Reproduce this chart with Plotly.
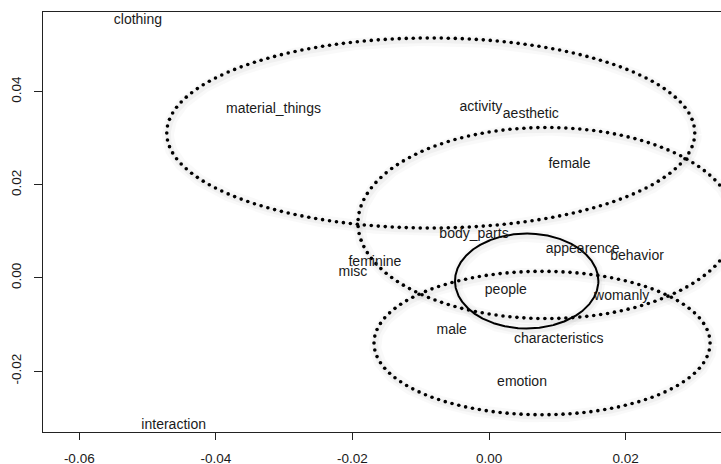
import numpy as np
import plotly.graph_objects as go

# ---- data ----
words = ["clothing", "material_things", "activity", "aesthetic", "female",
         "body_parts", "appearence", "behavior", "feminine", "misc", "people",
         "womanly", "male", "characteristics", "emotion", "interaction"]
word_x = [-0.05141, -0.03157, -0.00119, 0.00611, 0.01177,
          -0.00221, 0.01370, 0.02165, -0.01671, -0.01993, 0.00245,
          0.01941, -0.00548, 0.01019, 0.00482, -0.04618]
word_y = [0.05540, 0.03622, 0.03656, 0.03500, 0.02447,
          0.00943, 0.00614, 0.00455, 0.00327, 0.00112, -0.00275,
          -0.00404, -0.01119, -0.01313, -0.02251, -0.03175]

# cluster ellipses: centre and semi-axes (data units)
ell_cx = [-0.00854, 0.00842, 0.00775, 0.00550]
ell_cy = [0.03113, 0.01179, -0.01399, -0.00067]
ell_rx = [0.03865, 0.02761, 0.02460, 0.01050]
ell_ry = [0.02041, 0.02052, 0.01540, 0.01020]
ell_solid = [False, False, False, True]

x_tickvals = [-0.06, -0.04, -0.02, 0.00, 0.02]
x_ticktext = ["-0.06", "-0.04", "-0.02", "0.00", "0.02"]
y_tickvals = [-0.02, 0.00, 0.02, 0.04]
y_ticktext = ["-0.02", "0.00", "0.02", "0.04"]

# ---- layout geometry ----
W, H = 721, 464
ML, MR, MT, MB = 43, 0, 12, 32
XR = [-0.06531, 0.03395]
YR = [-0.03310, 0.05712]
pw, ph = W - ML - MR, H - MT - MB
sx = pw / (XR[1] - XR[0])
sy = ph / (YR[1] - YR[0])

FONT = "Liberation Sans, Arial, Helvetica, sans-serif"

fig = go.Figure()


def ellipse_curve(cx, cy, rx, ry, n=3000):
    t = np.linspace(0, 2 * np.pi, n)
    return cx + rx * np.cos(t), cy + ry * np.sin(t)


def ellipse_dots(cx, cy, rx, ry, spacing_px=7.0):
    x, y = ellipse_curve(cx, cy, rx, ry, 6000)
    px, py = x * sx, y * sy
    seg = np.hypot(np.diff(px), np.diff(py))
    s = np.concatenate([[0], np.cumsum(seg)])
    total = s[-1]
    n = int(round(total / spacing_px))
    ss = np.linspace(0, total, n, endpoint=False)
    return np.interp(ss, s, x), np.interp(ss, s, y)


# soft shadows under the ellipses
for cx, cy, rx, ry in zip(ell_cx, ell_cy, ell_rx, ell_ry):
    x, y = ellipse_curve(cx, cy, rx, ry)
    for w, a in [(12, 0.025), (6, 0.035)]:
        fig.add_trace(go.Scatter(
            x=x + 1.0 / sx, y=y - 2.0 / sy, mode="lines",
            line=dict(color=f"rgba(0,0,0,{a})", width=w),
            hoverinfo="skip", showlegend=False))

# ellipses
for cx, cy, rx, ry, solid in zip(ell_cx, ell_cy, ell_rx, ell_ry, ell_solid):
    if solid:
        x, y = ellipse_curve(cx, cy, rx, ry)
        fig.add_trace(go.Scatter(
            x=x, y=y, mode="lines", line=dict(color="black", width=2),
            hoverinfo="skip", showlegend=False))
    else:
        x, y = ellipse_dots(cx, cy, rx, ry)
        fig.add_trace(go.Scatter(
            x=x, y=y, mode="markers",
            marker=dict(color="black", size=3.6, line=dict(width=0)),
            hoverinfo="skip", showlegend=False))

# word labels
fig.add_trace(go.Scatter(
    x=word_x, y=word_y, mode="text", text=words,
    textposition="middle center",
    textfont=dict(family=FONT, size=14, color="#1a1a1a"),
    hoverinfo="skip", showlegend=False, cliponaxis=False))

fig.update_layout(
    width=W, height=H,
    margin=dict(l=ML, r=MR, t=MT, b=MB, pad=0, autoexpand=False),
    paper_bgcolor="white", plot_bgcolor="white",
    showlegend=False,
    font=dict(family=FONT, size=14, color="#1a1a1a"),
    xaxis=dict(range=XR, tickmode="array", tickvals=x_tickvals,
               ticktext=x_ticktext, ticks="outside", ticklen=7,
               tickwidth=1, tickcolor="#222", showline=True,
               linecolor="#222", linewidth=1, mirror=True,
               showgrid=False, zeroline=False, automargin=False,
               ticklabelstandoff=7,
               tickfont=dict(family=FONT, size=13.5, color="#1a1a1a")),
    yaxis=dict(range=YR, tickmode="array", tickvals=y_tickvals,
               ticktext=y_ticktext, ticks="outside", ticklen=8,
               tickwidth=1, tickcolor="#222", showline=True,
               linecolor="#222", linewidth=1, mirror=False,
               showgrid=False, zeroline=False, tickangle=-90,
               automargin=False, ticklabelstandoff=8,
               tickfont=dict(family=FONT, size=13.5, color="#1a1a1a")),
)

fig.write_html("out.html", config={"displayModeBar": False},
               post_script="document.body.style.margin='0px';"
                           "document.body.style.overflow='hidden';")
